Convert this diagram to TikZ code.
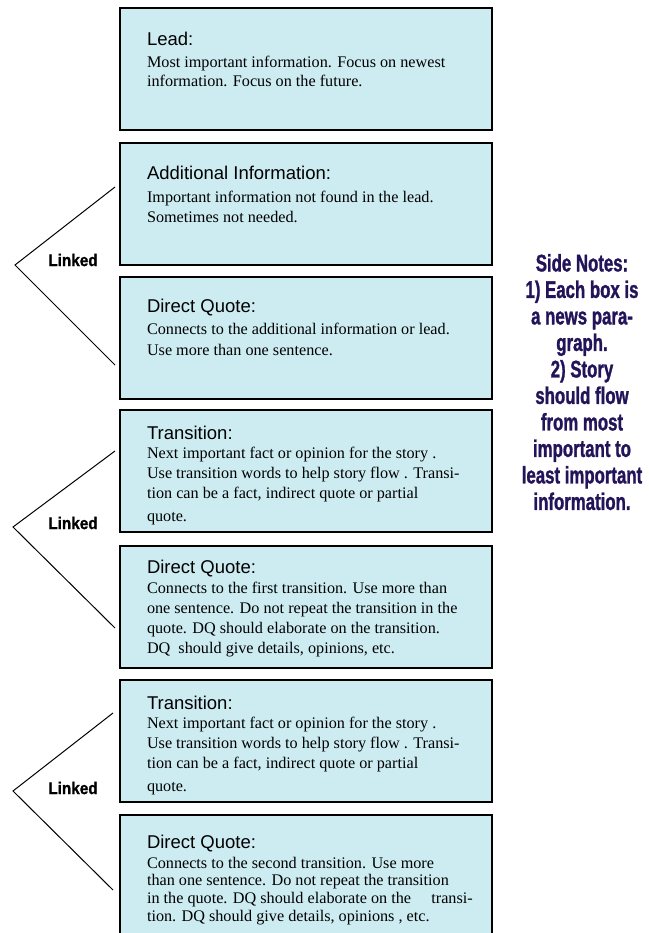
\documentclass[tikz,border=0pt]{standalone}
\usepackage{fontspec}
\setmainfont{Liberation Serif}
\newfontfamily\headfont{Liberation Sans}
\newfontfamily\notefont[FakeStretch=0.7, FakeBold=1.2]{Liberation Sans}
\newfontfamily\linkfont[FakeStretch=0.9, FakeBold=1.2]{Liberation Sans}
\definecolor{boxblue}{RGB}{204,236,242}
\definecolor{notenavy}{RGB}{35,20,90}
\begin{document}
\begin{tikzpicture}[x=1pt, y=-1pt, line join=miter,
    every node/.style={inner sep=0pt, outer sep=0pt},
    story/.style={draw, line width=2.6pt, fill=boxblue, anchor=north west, minimum width=372pt, minimum height=122pt},
    head/.style={anchor=base west, font=\headfont\fontsize{18.5}{22}\selectfont},
    body/.style={anchor=north west, align=left, font=\fontsize{16.2}{20}\selectfont},
    linked/.style={font=\linkfont\bfseries\fontsize{17}{20}\selectfont},
    bracket/.style={line width=1pt}]
    \path[use as bounding box, clip] (0,0) rectangle (648,933);

    \node[story] (lead) at (120, 8) {};
    \node[head] (leadhead) at (147, 45.5) {Lead:};
    \node[body] (leadbody) at (147, 56) {Most important information. Focus on newest\\[-0.5pt] information. Focus on the future.};

    \node[story] (info) at (120, 143) {};
    \node[head] (infohead) at (147, 179.5) {Additional Information:};
    \node[body] (infobody) at (147, 191) {Important information not found in the lead.\\ Sometimes not needed.};

    \node[story] (quotea) at (120, 277) {};
    \node[head] (quoteahead) at (147, 312.5) {Direct Quote:};
    \node[body] (quoteabody) at (147, 323) {Connects to the additional information or lead.\\[1pt] Use more than one sentence.};

    \node[story] (transa) at (120, 410) {};
    \node[head] (transahead) at (147, 439.5) {Transition:};
    \node[body] (transabody) at (147, 447) {Next important fact or opinion for the story .\\ Use transition words to help story flow . Transi-\\ tion can be a fact, indirect quote or partial\\[3pt] quote.};

    \node[story] (quoteb) at (120, 546) {};
    \node[head] (quotebhead) at (147, 573.5) {Direct Quote:};
    \node[body] (quotebbody) at (147, 582) {Connects to the first transition. Use more than\\ one sentence. Do not repeat the transition in the\\ quote. DQ should elaborate on the transition.\\ DQ~ should give details, opinions, etc.};

    \node[story] (transb) at (120, 680) {};
    \node[head] (transbhead) at (147, 709.5) {Transition:};
    \node[body] (transbbody) at (147, 717) {Next important fact or opinion for the story .\\ Use transition words to help story flow . Transi-\\ tion can be a fact, indirect quote or partial\\[3pt] quote.};

    \node[story] (quotec) at (120, 815) {};
    \node[head] (quotechead) at (147, 848.5) {Direct Quote:};
    \node[body, font=\fontsize{16.2}{17.5}\selectfont] (quotecbody) at (147, 857) {Connects to the second transition. Use more\\ than one sentence. Do not repeat the transition\\ in the quote. DQ should elaborate on the \quad transi-\\[0.5pt] tion. DQ should give details, opinions , etc.};

    \coordinate (linkatop) at (115, 187);
    \coordinate (linkatip) at (15, 265);
    \coordinate (linkabot) at (115, 365);
    \coordinate (linkbtop) at (115, 451);
    \coordinate (linkbtip) at (13, 527);
    \coordinate (linkbbot) at (115, 628);
    \coordinate (linkctop) at (113, 713);
    \coordinate (linkctip) at (13, 791);
    \coordinate (linkcbot) at (113, 890);
    \draw[bracket] (linkatop) -- (linkatip) -- (linkabot);
    \draw[bracket] (linkbtop) -- (linkbtip) -- (linkbbot);
    \draw[bracket] (linkctop) -- (linkctip) -- (linkcbot);
    \node[linked] (linkeda) at (73, 260) {Linked};
    \node[linked] (linkedb) at (73, 523) {Linked};
    \node[linked] (linkedc) at (73, 788) {Linked};

    \node[anchor=north, align=center, text=notenavy, font=\notefont\bfseries\fontsize{24}{26.5}\selectfont] (sidenotes) at (582, 254) {Side Notes:\\ 1) Each box is\\ a news para-\\ graph.\\ 2) Story\\ should flow\\ from most\\ important to\\ least important\\ information.};
\end{tikzpicture}
\end{document}
